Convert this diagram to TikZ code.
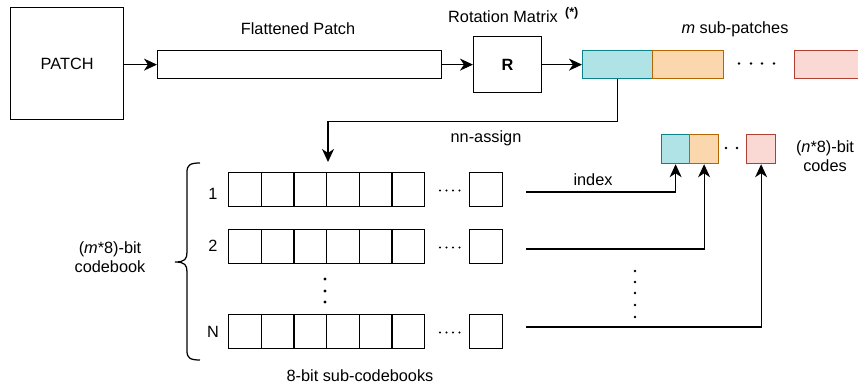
\documentclass[tikz,border=0pt]{standalone}
\usepackage{fontspec}
\setmainfont{Liberation Sans}
\usetikzlibrary{arrows.meta,calc}
\definecolor{tealF}{HTML}{B0E3E6}
\definecolor{tealD}{HTML}{0E8088}
\definecolor{orF}{HTML}{FAD7AC}
\definecolor{orD}{HTML}{B46504}
\definecolor{redF}{HTML}{FAD9D5}
\definecolor{redD}{HTML}{AE4132}
\begin{document}
\begin{tikzpicture}[x=1pt,y=-1pt, font=\fontsize{16.3}{19}\selectfont, line width=1.25pt,
  box/.style={draw, inner sep=0pt, anchor=north west},
  lbl/.style={inner sep=0pt, anchor=base},
  arr/.style={-{Stealth[length=13pt,width=12pt,inset=4pt]}},
  tealbox/.style={box, fill=tealF, draw=tealD},
  orbox/.style={box, fill=orF, draw=orD},
  redbox/.style={box, fill=redF, draw=redD}]
\useasboundingbox (0,0) rectangle (858,390);

% top row
\node[box, minimum width=113pt, minimum height=112pt] (patch) at (10,7) {PATCH};
\node[box, minimum width=284pt, minimum height=28pt] (flat) at (157,50) {};
\node[lbl] (flatlbl) at (298,34.3) {Flattened Patch};
\node[box, minimum width=68pt, minimum height=56pt, font=\fontsize{16.3}{19}\selectfont\bfseries] (R) at (473,36) {R};
\node[lbl] (rotlbl) at (503,22.7) {Rotation Matrix};
\node[inner sep=0pt, anchor=base west, font=\fontsize{12.5}{14}\selectfont\bfseries] (star) at (564.5,16.5) {(*)};

\node[tealbox, minimum width=70pt, minimum height=28pt] (sp1) at (582,50) {};
\node[orbox, minimum width=71pt, minimum height=28pt] (sp2) at (652,50) {};
\begin{scope}
  \clip (0,0) rectangle (858,390);
  \node[redbox, minimum width=70pt, minimum height=28pt] (sp3) at (794,50) {};
\end{scope}
\foreach \x in {739,751,762,774} \fill (\x,63.5) circle (1.4);
\node[lbl] (mlbl) at (735,33.3) {\textit{m} sub-patches};

\draw[arr] (patch.east |- flat.west) -- (flat.west);
\draw[arr] (flat.east) -- (flat.east -| R.west);
\draw[arr] (R.east |- sp1.west) -- (sp1.west);

% nn-assign
\coordinate (nnend) at (328,162);
\draw[arr] (sp1.south) -- ++(0,42) -| (nnend);
\node[lbl] (nnlbl) at (486,142.7) {nn-assign};

% codebook rows
\foreach \r/\y in {1/172, 2/229, N/314} {
  \foreach \i in {0,...,5} {
    \node[box, minimum width=32.67pt, minimum height=34pt] (c\r\i) at ({228+\i*32.67}, \y) {};
  }
  \node[box, minimum width=33pt, minimum height=34pt] (last\r) at (469,\y) {};
  \foreach \x in {440,446.5,453,459.5} \fill (\x,{\y+18.5}) circle (1.1);
}
\node (l1) at (213,194) {1};
\node (l2) at (213,246) {2};
\node (lN) at (213,332) {N};
\foreach \yy in {279,291,302} \fill (325,\yy) circle (1.7);

% brace
\draw (200,163) .. controls (190,163) and (187,165) .. (187,172) -- (187,252)
  .. controls (187,259) and (185,262) .. (175,262)
  .. controls (185,262) and (187,265) .. (187,272) -- (187,351)
  .. controls (187,358) and (190,360) .. (200,360);
\node[align=center, inner sep=0pt] (cblbl) at (110,257) {(\textit{m}*8)-bit\\codebook};
\node (sublbl) at (360,376) {8-bit sub-codebooks};

% codes
\node[tealbox, minimum width=28pt, minimum height=29pt] (k1) at (661,134) {};
\node[orbox, minimum width=29pt, minimum height=29pt] (k2) at (689,134) {};
\node[redbox, minimum width=29pt, minimum height=29pt] (k3) at (746,134) {};
\foreach \x in {726,737} \fill (\x,148) circle (1.4);
\node[align=center, inner sep=0pt] (codelbl) at (825,156) {(\textit{n}*8)-bit\\codes};

\coordinate (s1) at (526,192);
\coordinate (s2) at (526,249);
\coordinate (s3) at (526,327);
\draw[arr] (s1) -| (k1.south);
\draw[arr] (s2) -| (k2.south);
\draw[arr] (s3) -| (k3.south);
\node[lbl] (idx) at (593,185) {index};
\foreach \yy in {271,282,293,305,317} \fill (635,\yy) circle (1.4);
\end{tikzpicture}
\end{document}
